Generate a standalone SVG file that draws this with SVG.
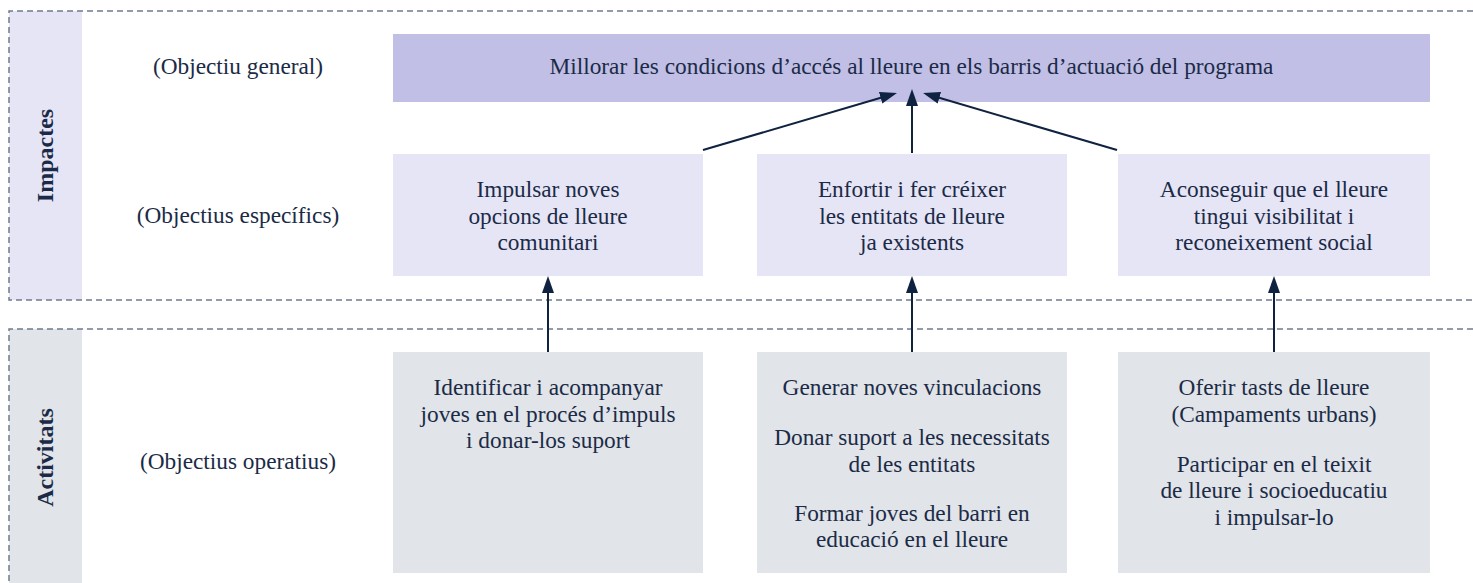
<svg xmlns="http://www.w3.org/2000/svg" width="1473" height="583" viewBox="0 0 1473 583">
<style>
text{font-family:"Liberation Serif","Times New Roman",serif;font-size:23.3px;fill:#1b2b47;text-anchor:middle}
.band{font-weight:bold;font-size:24px}
.dash{fill:none;stroke:#6e7b8d;stroke-width:1.5;stroke-dasharray:6 4}
.gen{fill:#c1bfe6}
.spec{fill:#e6e5f6}
.act{fill:#e1e4e8}
.arr{fill:none;stroke:#0f2240;stroke-width:2;marker-end:url(#ah)}
</style>
<defs>
<marker id="ah" markerUnits="userSpaceOnUse" markerWidth="17" markerHeight="12" refX="9" refY="6" orient="auto">
<path d="M0,0 L17,6 L0,12 z" fill="#0f2240"/>
</marker>
</defs>
<rect width="1473" height="583" fill="#ffffff"/>
<g id="section-impactes">
<rect x="9" y="11" width="73" height="289" class="spec"/>
<path class="dash" d="M1473,11 H9 V300 H1473"/>
<text class="band" transform="translate(53,155.5) rotate(-90)">Impactes</text>
<text x="238" y="74">(Objectiu general)</text>
<text x="238" y="223">(Objectius específics)</text>
</g>
<g id="section-activitats">
<rect x="9" y="329" width="73" height="254" class="act"/>
<path class="dash" d="M1473,329 H9 V583"/>
<text class="band" transform="translate(53,457.5) rotate(-90)">Activitats</text>
<text x="238" y="469">(Objectius operatius)</text>
</g>
<g id="node-general">
<rect x="393" y="34" width="1037" height="68" class="gen"/>
<text x="911.5" y="74">Millorar les condicions d’accés al lleure en els barris d’actuació del programa</text>
</g>
<g id="node-spec1">
<rect x="393" y="154" width="310" height="122" class="spec"/>
<text x="548" y="197">Impulsar noves</text>
<text x="548" y="223.5">opcions de lleure</text>
<text x="548" y="250">comunitari</text>
</g>
<g id="node-spec2">
<rect x="757" y="154" width="310" height="122" class="spec"/>
<text x="912" y="197">Enfortir i fer créixer</text>
<text x="912" y="223.5">les entitats de lleure</text>
<text x="912" y="250">ja existents</text>
</g>
<g id="node-spec3">
<rect x="1118" y="154" width="312" height="122" class="spec"/>
<text x="1274" y="197">Aconseguir que el lleure</text>
<text x="1274" y="223.5">tingui visibilitat i</text>
<text x="1274" y="250">reconeixement social</text>
</g>
<g id="node-act1">
<rect x="393" y="352" width="310" height="221" class="act"/>
<text x="548" y="395">Identificar i acompanyar</text>
<text x="548" y="421.5">joves en el procés d’impuls</text>
<text x="548" y="448">i donar-los suport</text>
</g>
<g id="node-act2">
<rect x="757" y="352" width="310" height="221" class="act"/>
<text x="912" y="395">Generar noves vinculacions</text>
<text x="912" y="445">Donar suport a les necessitats</text>
<text x="912" y="471.5">de les entitats</text>
<text x="912" y="520.5">Formar joves del barri en</text>
<text x="912" y="547">educació en el lleure</text>
</g>
<g id="node-act3">
<rect x="1118" y="352" width="312" height="221" class="act"/>
<text x="1274" y="395">Oferir tasts de lleure</text>
<text x="1274" y="421.5">(Campaments urbans)</text>
<text x="1274" y="471.5">Participar en el teixit</text>
<text x="1274" y="498">de lleure i socioeducatiu</text>
<text x="1274" y="524.5">i impulsar-lo</text>
</g>
<g id="connectors">
<line class="arr" x1="703" y1="150" x2="889.3" y2="95.3"/>
<line class="arr" x1="912" y1="153" x2="912" y2="97"/>
<line class="arr" x1="1117" y1="150" x2="930.7" y2="95.3"/>
<line class="arr" x1="548" y1="352" x2="548" y2="284"/>
<line class="arr" x1="912" y1="352" x2="912" y2="284"/>
<line class="arr" x1="1274" y1="352" x2="1274" y2="284"/>
</g>
</svg>
